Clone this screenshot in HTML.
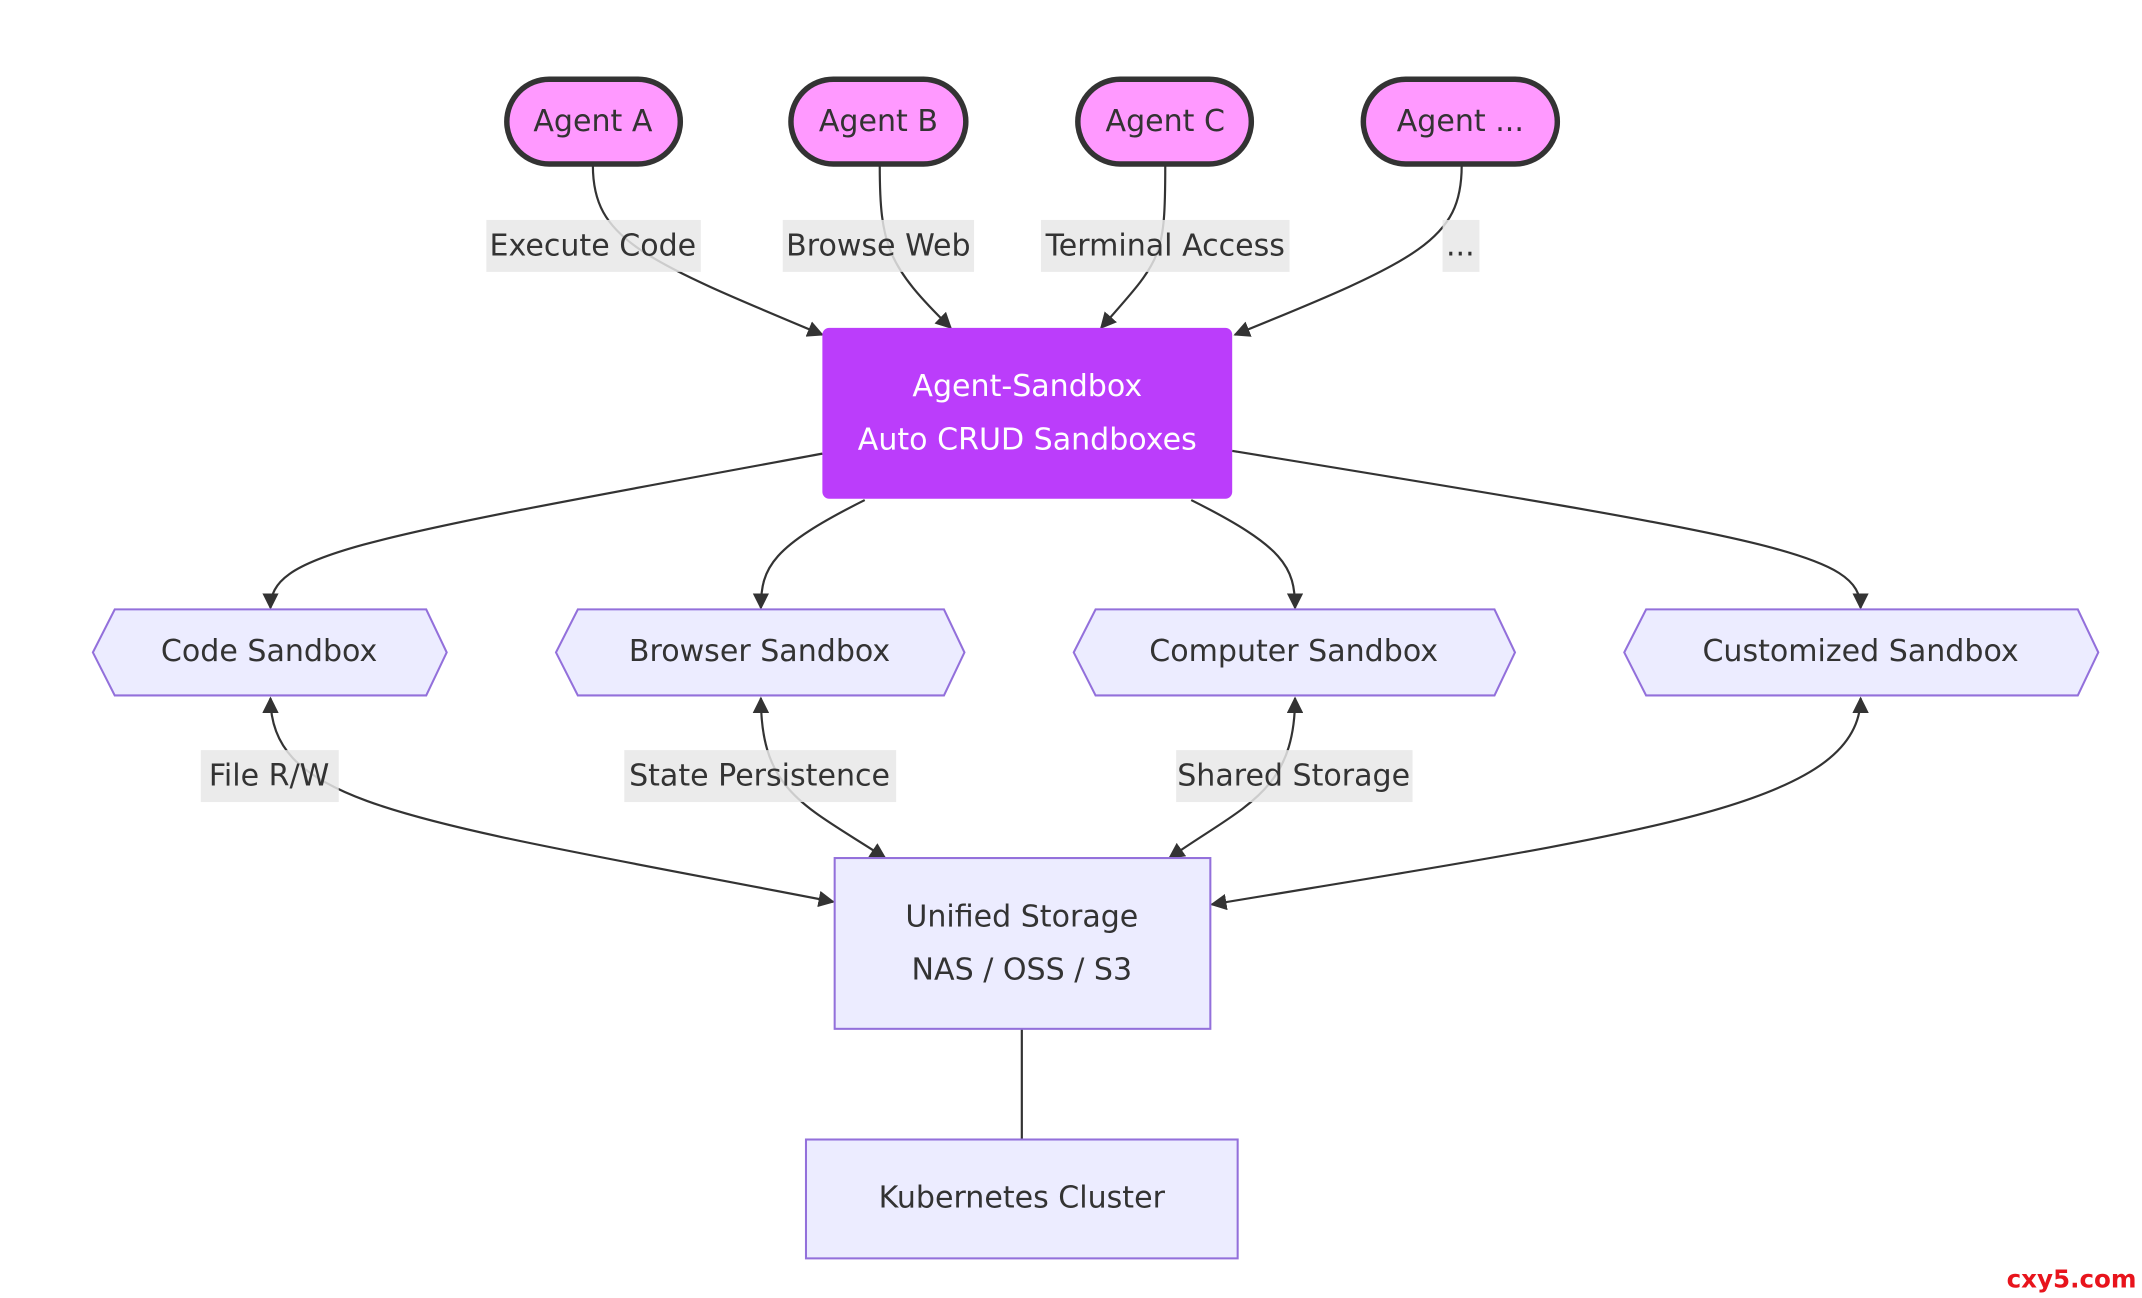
<!DOCTYPE html>
<html><head><meta charset="utf-8"><style>
html,body{margin:0;padding:0;background:#fff;}
svg{display:block;}
text{font-family:"DejaVu Sans","Liberation Sans",sans-serif;font-size:22px;fill:#333;text-anchor:middle;dominant-baseline:central;}
</style></head><body>
<svg width="2142" height="1298" viewBox="0 0 1568 950" preserveAspectRatio="none" xmlns="http://www.w3.org/2000/svg">
<defs>
<marker id="arr" viewBox="0 0 10 10" refX="9" refY="5" markerWidth="12" markerHeight="12" orient="auto-start-reverse" markerUnits="userSpaceOnUse"><path d="M0,0 L10,5 L0,10 z" fill="#333"/></marker>
</defs>
<g fill="none" stroke="#333" stroke-width="1.6">
<path d="M434,121 C434,175 470,190 602,245" marker-end="url(#arr)"/>
<path d="M644,121 C644,180 650,195 696,240" marker-end="url(#arr)"/>
<path d="M853,121 C853,190 850,190 806,240" marker-end="url(#arr)"/>
<path d="M1070,121 C1070,175 1040,190 904,245" marker-end="url(#arr)"/>
<path d="M602,332 C260,395 198,405 198,445" marker-end="url(#arr)"/>
<path d="M633,366 C565,400 557,415 557,445" marker-end="url(#arr)"/>
<path d="M872,366 C940,400 948,415 948,445" marker-end="url(#arr)"/>
<path d="M902,330 C1300,395 1362,405 1362,445" marker-end="url(#arr)"/>
<path d="M198,511 C198,590 300,600 610,660" marker-start="url(#arr)" marker-end="url(#arr)"/>
<path d="M557,511 C557,580 590,590 648,628" marker-start="url(#arr)" marker-end="url(#arr)"/>
<path d="M948,511 C948,580 910,590 856,628" marker-start="url(#arr)" marker-end="url(#arr)"/>
<path d="M1362,511 C1362,590 1200,610 887,662" marker-start="url(#arr)" marker-end="url(#arr)"/>
<path d="M748,753 L748,834"/>
</g>
<g fill="#e8e8e8" opacity="0.85">
<rect x="356" y="161" width="157" height="38"/>
<rect x="573" y="161" width="140" height="38"/>
<rect x="762" y="161" width="182" height="38"/>
<rect x="1056" y="161" width="27" height="38"/>
<rect x="147" y="549" width="101" height="38"/>
<rect x="457" y="549" width="199" height="38"/>
<rect x="861" y="549" width="173" height="38"/>
</g>
<text x="434" y="180">Execute Code</text>
<text x="643" y="180">Browse Web</text>
<text x="853" y="180">Terminal Access</text>
<text x="1069" y="180">...</text>
<text x="197" y="568">File R/W</text>
<text x="556" y="568">State Persistence</text>
<text x="947" y="568">Shared Storage</text>
<g fill="#ff99ff" stroke="#333" stroke-width="4">
<rect x="371" y="58" width="127" height="62" rx="31"/>
<rect x="579" y="58" width="128" height="62" rx="31"/>
<rect x="789" y="58" width="127" height="62" rx="31"/>
<rect x="998" y="58" width="142" height="62" rx="31"/>
</g>
<text x="434" y="89">Agent A</text>
<text x="643" y="89">Agent B</text>
<text x="853" y="89">Agent C</text>
<text x="1069" y="89">Agent ...</text>
<rect x="602" y="240" width="300" height="125" rx="5" fill="#bb3dfb"/>
<text x="752" y="283" style="fill:#fff">Agent-Sandbox</text>
<text x="752" y="322" style="fill:#fff">Auto CRUD Sandboxes</text>
<g fill="#ececff" stroke="#9370db" stroke-width="1.5">
<polygon points="84,446 312,446 327,477.5 312,509 84,509 68,477.5"/>
<polygon points="423,446 691,446 706,477.5 691,509 423,509 407,477.5"/>
<polygon points="802,446 1094,446 1109,477.5 1094,509 802,509 786,477.5"/>
<polygon points="1205,446 1521,446 1536,477.5 1521,509 1205,509 1189,477.5"/>
<rect x="611" y="628" width="275" height="125"/>
<rect x="590" y="834" width="316" height="87"/>
</g>
<text x="197" y="477">Code Sandbox</text>
<text x="556" y="477">Browser Sandbox</text>
<text x="947" y="477">Computer Sandbox</text>
<text x="1362" y="477">Customized Sandbox</text>
<text x="748" y="671">Unified Storage</text>
<text x="748" y="710">NAS / OSS / S3</text>
<text x="748" y="877">Kubernetes Cluster</text>
<text x="1564" y="936" style="fill:#e8141c;font-weight:bold;font-size:18px;text-anchor:end">cxy5.com</text>
</svg>
</body></html>
